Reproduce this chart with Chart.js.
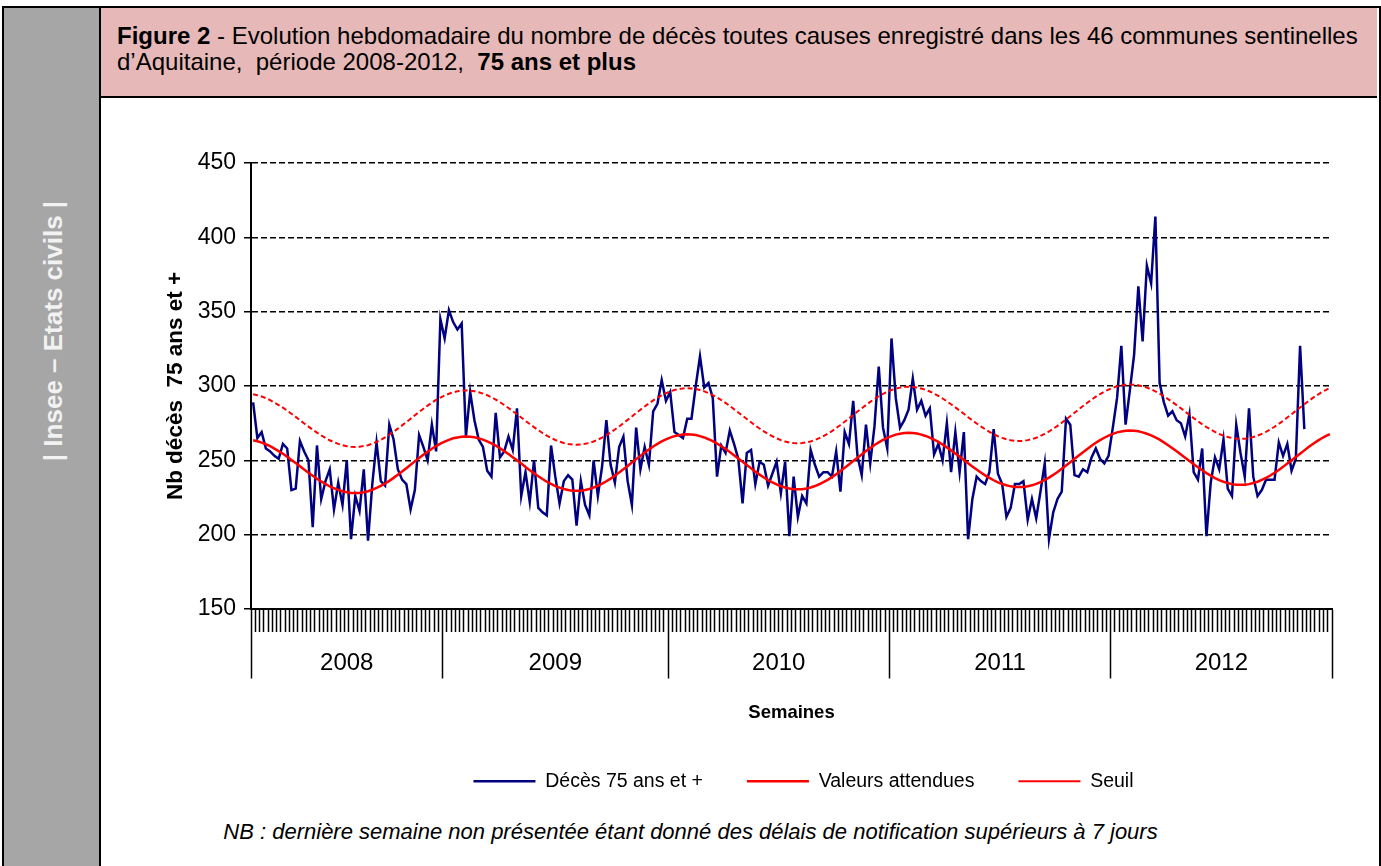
<!DOCTYPE html>
<html lang="fr">
<head>
<meta charset="utf-8">
<title>Figure 2 - Décès 75 ans et plus, Aquitaine 2008-2012</title>
<script src="https://cdn.jsdelivr.net/npm/chart.js@4"></script>
<style>
  html, body { margin: 0; padding: 0; }
  body { width: 1381px; height: 866px; position: relative; overflow: hidden; background: #fff;
         font-family: "Liberation Sans", Arial, sans-serif; color: #000; }
  #frame { position: absolute; left: 2px; top: 6px; width: 1375px; height: 870px; border: 2px solid #000; }
  #side { position: absolute; left: 4px; top: 8px; width: 95px; height: 858px; background: #a6a6a6; border-right: 2px solid #000; }
  #sideText { position: absolute; left: 53px; top: 331px; transform: translate(-50%, -50%) rotate(-90deg);
              white-space: nowrap; font-weight: bold; font-size: 26px; color: #f2f2f2; }
  #header { position: absolute; left: 101px; top: 8px; width: 1276px; height: 88px; background: #e6b9b8; border-bottom: 2px solid #000; }
  #header p { position: absolute; margin: 0; left: 16px; top: 15px; font-size: 24px; line-height: 26px; white-space: nowrap; }
  #chartBox { position: absolute; left: 100px; top: 97px; width: 1281px; height: 704px; }
  #note { position: absolute; left: 0; top: 819px; width: 1381px; text-align: center; font-style: italic; font-size: 22px; line-height: 26px; }
</style>
</head>
<body>
<div id="frame"></div>
<div id="side"></div>
<div id="sideText">| Insee – Etats civils |</div>
<div id="header"><p><b>Figure 2</b> - Evolution hebdomadaire du nombre de décès toutes causes enregistré dans les 46 communes sentinelles<br>d’Aquitaine,&nbsp; période 2008-2012,&nbsp; <b>75 ans et plus</b></p></div>
<div id="chartBox"><canvas id="chart" width="1281" height="704"></canvas></div>
<div id="note">NB : dernière semaine non présentée étant donné des délais de notification supérieurs à 7 jours</div>
<script>
// years on the axis and number of weeks shown for each (2008 starts at week 8)
const yearLabels = ['2008', '2009', '2010', '2011', '2012']
const weeksPerYear = [45, 53, 52, 52, 52]
const firstWeek2008 = 8

// weekly deaths 75+ (last weeks of 2012 not shown)
const deces75 = [
  289, 265, 269, 258, 256, 253, 251, 261, 258, 230, 231, 263, 256, 250, 205, 260, 224, 236, 244, 217,
  235, 220, 250, 197, 226, 216, 244, 196, 234, 262, 236, 233, 274, 264, 244, 237, 234, 217, 230, 267,
  259, 250, 274, 256, 345, 332, 351, 343, 338, 342, 266, 296, 277, 264, 259, 243, 239, 282, 252, 256,
  266, 257, 285, 226, 242, 222, 250, 218, 215, 213, 260, 239, 221, 236, 240, 237, 206, 236, 220, 213,
  250, 226, 246, 277, 247, 235, 259, 266, 236, 220, 272, 244, 259, 247, 283, 288, 304, 290, 296, 269,
  267, 265, 278, 278, 300, 320, 299, 302, 292, 239, 260, 255, 270, 261, 251, 221, 255, 257, 234, 249,
  247, 233, 241, 249, 228, 249, 199, 239, 212, 226, 221, 257, 247, 239, 242, 242, 239, 256, 229, 269,
  261, 290, 253, 240, 274, 248, 273, 313, 272, 258, 332, 292, 272, 277, 284, 305, 284, 290, 280, 285,
  254, 261, 250, 275, 242, 269, 242, 269, 197, 224, 239, 236, 234, 242, 271, 241, 234, 212, 218, 234,
  234, 236, 210, 224, 211, 229, 248, 197, 215, 224, 229, 278, 274, 240, 239, 244, 242, 252, 258, 251,
  248, 253, 272, 292, 327, 274, 297, 321, 367, 330, 381, 369, 414, 302, 289, 280, 283, 277, 275, 266,
  281, 242, 237, 258, 199, 235, 252, 244, 264, 231, 226, 274, 255, 239, 285, 239, 226, 230, 237, 237,
  237, 262, 253, 261, 243, 251, 327, 271
]

const valeursAttendues = [
  263.5, 262.8, 261.9, 260.8, 259.5, 257.9, 256.2, 254.4, 252.4, 250.3, 248.2, 246.0, 243.8, 241.7, 239.6, 237.6, 235.8, 234.1, 232.5, 231.2,
  230.1, 229.2, 228.5, 228.1, 228.0, 228.1, 228.6, 229.2, 230.2, 231.4, 232.8, 234.4, 236.2, 238.2, 240.3, 242.5, 244.7, 247.0, 249.3, 251.5,
  253.7, 255.8, 257.8, 259.6, 261.2, 262.6, 263.8, 264.8, 265.4, 265.9, 266.0, 265.9, 265.5, 264.8, 263.9, 262.8, 261.4, 259.9, 258.1, 256.2,
  254.2, 252.1, 250.0, 247.8, 245.5, 243.4, 241.3, 239.3, 237.4, 235.6, 234.1, 232.7, 231.6, 230.7, 230.0, 229.6, 229.5, 229.6, 230.1, 230.7,
  231.7, 232.9, 234.3, 235.9, 237.7, 239.7, 241.8, 244.0, 246.2, 248.5, 250.8, 253.0, 255.2, 257.3, 259.3, 261.1, 262.7, 264.1, 265.3, 266.3,
  266.9, 267.4, 267.5, 267.4, 267.0, 266.3, 265.4, 264.2, 262.9, 261.3, 259.5, 257.6, 255.6, 253.4, 251.2, 249.0, 246.8, 244.6, 242.4, 240.4,
  238.5, 236.7, 235.2, 233.8, 232.6, 231.7, 231.0, 230.6, 230.5, 230.6, 231.1, 231.7, 232.7, 233.9, 235.3, 236.9, 238.7, 240.7, 242.8, 245.0,
  247.2, 249.5, 251.8, 254.0, 256.2, 258.3, 260.3, 262.1, 263.7, 265.1, 266.3, 267.3, 267.9, 268.4, 268.5, 268.4, 268.0, 267.3, 266.4, 265.3,
  263.9, 262.4, 260.6, 258.7, 256.7, 254.6, 252.5, 250.3, 248.0, 245.9, 243.8, 241.8, 239.9, 238.2, 236.6, 235.2, 234.1, 233.2, 232.5, 232.1,
  232.0, 232.1, 232.6, 233.2, 234.2, 235.4, 236.8, 238.4, 240.2, 242.2, 244.3, 246.5, 248.7, 251.0, 253.3, 255.5, 257.7, 259.8, 261.8, 263.6,
  265.2, 266.6, 267.8, 268.8, 269.4, 269.9, 270.0, 269.9, 269.5, 268.8, 267.9, 266.8, 265.4, 263.9, 262.1, 260.2, 258.2, 256.1, 254.0, 251.8,
  249.5, 247.4, 245.3, 243.3, 241.4, 239.7, 238.1, 236.7, 235.6, 234.7, 234.0, 233.6, 233.5, 233.6, 234.0, 234.7, 235.6, 236.8, 238.2, 239.8,
  241.6, 243.5, 245.6, 247.8, 250.0, 252.3, 254.5, 256.7, 258.9, 261.0, 262.9, 264.7, 266.3, 267.7
]

const seuil = [
  294.5, 293.8, 292.9, 291.8, 290.5, 288.9, 287.2, 285.4, 283.4, 281.3, 279.2, 277.0, 274.8, 272.7, 270.6, 268.6, 266.8, 265.1, 263.5, 262.2,
  261.1, 260.2, 259.5, 259.1, 259.0, 259.1, 259.6, 260.2, 261.2, 262.4, 263.8, 265.4, 267.2, 269.2, 271.3, 273.5, 275.7, 278.0, 280.3, 282.5,
  284.7, 286.8, 288.8, 290.6, 292.2, 293.6, 294.8, 295.8, 296.4, 296.9, 297.0, 296.9, 296.5, 295.8, 294.9, 293.8, 292.4, 290.9, 289.1, 287.2,
  285.2, 283.1, 281.0, 278.8, 276.5, 274.4, 272.3, 270.3, 268.4, 266.6, 265.1, 263.7, 262.6, 261.7, 261.0, 260.6, 260.5, 260.6, 261.1, 261.7,
  262.7, 263.9, 265.3, 266.9, 268.7, 270.7, 272.8, 275.0, 277.2, 279.5, 281.8, 284.0, 286.2, 288.3, 290.3, 292.1, 293.7, 295.1, 296.3, 297.3,
  297.9, 298.4, 298.5, 298.4, 298.0, 297.3, 296.4, 295.2, 293.9, 292.3, 290.5, 288.6, 286.6, 284.4, 282.2, 280.0, 277.8, 275.6, 273.4, 271.4,
  269.5, 267.7, 266.2, 264.8, 263.6, 262.7, 262.0, 261.6, 261.5, 261.6, 262.1, 262.7, 263.7, 264.9, 266.3, 267.9, 269.7, 271.7, 273.8, 276.0,
  278.2, 280.5, 282.8, 285.0, 287.2, 289.3, 291.3, 293.1, 294.7, 296.1, 297.3, 298.3, 298.9, 299.4, 299.5, 299.4, 299.0, 298.3, 297.4, 296.3,
  294.9, 293.4, 291.6, 289.7, 287.7, 285.6, 283.5, 281.3, 279.0, 276.9, 274.8, 272.8, 270.9, 269.2, 267.6, 266.2, 265.1, 264.2, 263.5, 263.1,
  263.0, 263.1, 263.6, 264.2, 265.2, 266.4, 267.8, 269.4, 271.2, 273.2, 275.3, 277.5, 279.7, 282.0, 284.3, 286.5, 288.7, 290.8, 292.8, 294.6,
  296.2, 297.6, 298.8, 299.8, 300.4, 300.9, 301.0, 300.9, 300.5, 299.8, 298.9, 297.8, 296.4, 294.9, 293.1, 291.2, 289.2, 287.1, 285.0, 282.8,
  280.5, 278.4, 276.3, 274.3, 272.4, 270.7, 269.1, 267.7, 266.6, 265.7, 265.0, 264.6, 264.5, 264.6, 265.0, 265.7, 266.6, 267.8, 269.2, 270.8,
  272.6, 274.5, 276.6, 278.8, 281.0, 283.3, 285.5, 287.7, 289.9, 292.0, 293.9, 295.7, 297.3, 298.7
]

// one category per week: "2008-S08", "2008-S09", ...
let weekLabels = []
let yearBounds = [0]
for (let i = 0; i < yearLabels.length; i++) {
    let start = (i == 0) ? firstWeek2008 : 1
    for (let w = 0; w < weeksPerYear[i]; w++) {
        weekLabels.push(yearLabels[i] + '-S' + String(start + w).padStart(2, '0'))
    }
    yearBounds.push(yearBounds[i] + weeksPerYear[i])
}
let yearMids = []
for (let i = 0; i < yearLabels.length; i++) {
    yearMids.push((yearBounds[i] + yearBounds[i + 1]) / 2)
}
const yearTicks = yearBounds.concat(yearMids).sort((a, b) => a - b)

const fontFamily = '"Liberation Sans", Arial, sans-serif'
Chart.defaults.font.family = fontFamily
Chart.defaults.color = '#000'

// the legend in the original sits a little right of the plot centre
const legendNudge = {
    id: 'legendNudge',
    afterLayout(chart) {
        if (chart.legend) {
            chart.legend.left += 12
            chart.legend.right += 12
        }
    }
}

let canvas = document.getElementById('chart').getContext('2d')
window.chart = new Chart(canvas, {
    type: 'line',
    data: {
        labels: weekLabels,
        datasets: [
            { label: 'Décès 75 ans et +', data: deces75, borderColor: '#000080', backgroundColor: '#000080',
              borderWidth: 2.5, pointRadius: 0, order: 3 },
            { label: 'Valeurs attendues', data: valeursAttendues, borderColor: '#ff0000', backgroundColor: '#ff0000',
              borderWidth: 2.5, pointRadius: 0, order: 2 },
            { label: 'Seuil', data: seuil, borderColor: '#ff0000', backgroundColor: '#ff0000',
              borderWidth: 2, borderDash: [5, 3], pointRadius: 0, order: 1 }
        ]
    },
    plugins: [legendNudge],
    options: {
        responsive: false,
        animation: false,
        devicePixelRatio: 1,
        layout: { padding: { left: 62, right: 49, top: 66, bottom: 0 } },
        plugins: {
            tooltip: { enabled: false },
            legend: {
                position: 'bottom',
                fullSize: false,
                labels: {
                    usePointStyle: true,
                    pointStyle: 'line',
                    pointStyleWidth: 62,
                    padding: 44,
                    color: '#000',
                    font: { size: 19.5 },
                    sort: (a, b) => a.datasetIndex - b.datasetIndex
                }
            }
        },
        scales: {
            x: {
                type: 'category',
                position: 'bottom',
                offset: true,
                weight: 0,
                grid: { offset: true, drawOnChartArea: false, tickLength: 23, color: '#000', tickColor: '#000', tickWidth: 1.5 },
                border: { display: true, color: '#000', width: 2 },
                ticks: { display: false }
            },
            years: {
                type: 'linear',
                position: 'bottom',
                min: 0,
                max: yearBounds[yearBounds.length - 1],
                weight: 1,
                grid: {
                    drawOnChartArea: false,
                    tickLength: 46.5,
                    tickWidth: 1.5,
                    tickColor: (c) => (c.tick && yearBounds.includes(c.tick.value)) ? '#000' : 'rgba(0,0,0,0)'
                },
                border: { display: false },
                afterBuildTicks: (axis) => { axis.ticks = yearTicks.map(v => ({ value: v })) },
                afterFit: (axis) => { axis.height = 95.5 },
                ticks: {
                    autoSkip: false,
                    maxRotation: 0,
                    padding: -29.4,
                    color: '#000',
                    font: { size: 24 },
                    callback: (v) => {
                        let i = yearMids.indexOf(v)
                        return i >= 0 ? yearLabels[i] : ''
                    }
                },
                title: { display: true, text: 'Semaines', color: '#000', font: { size: 18.5, weight: 'bold' }, padding: { top: 0, bottom: 3 } }
            },
            y: {
                min: 150,
                max: 450,
                afterFit: (axis) => { axis.width = 89 },
                ticks: { stepSize: 50, color: '#000', font: { size: 23 }, padding: 8 },
                grid: { color: '#000', lineWidth: 1.5, tickLength: 7, tickColor: '#000', tickWidth: 1.5 },
                border: { display: true, color: '#000', width: 2, dash: [6, 3] },
                title: { display: true, text: 'Nb décès  75 ans et +', color: '#000', font: { size: 22.5, weight: 'bold' }, padding: { top: 0, bottom: 0 } }
            }
        }
    }
})
</script>
</body>
</html>
